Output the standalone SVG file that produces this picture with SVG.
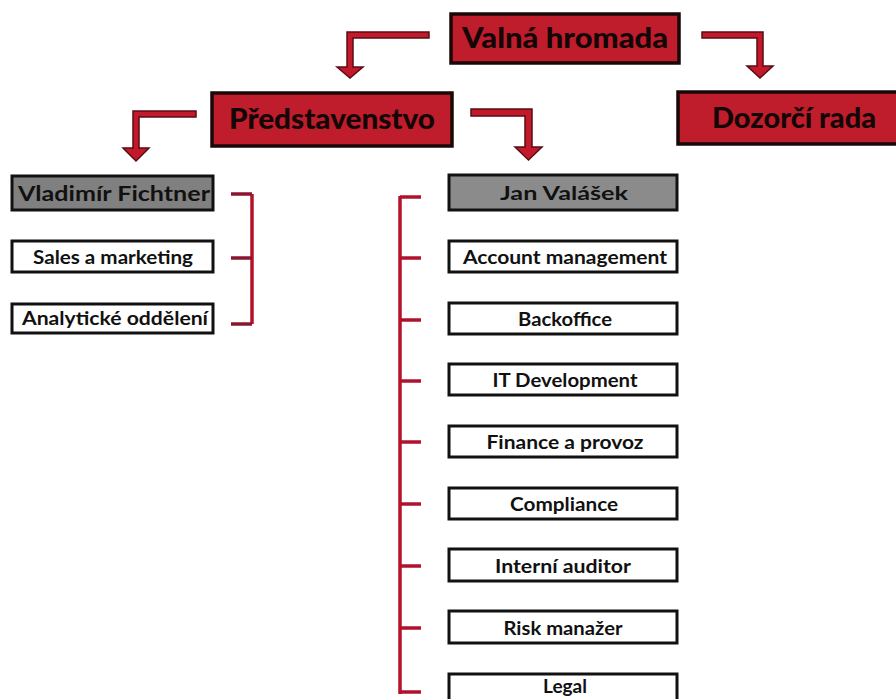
<svg xmlns="http://www.w3.org/2000/svg" width="896" height="699" viewBox="0 0 896 699">
<style>
.red{fill:#bf1d2b;stroke:#1a0808;stroke-width:3.5}
.gray{fill:#8b8b8b;stroke:#111;stroke-width:3}
.white{fill:#fff;stroke:#111;stroke-width:3}
.big{font-family:Lato,"Open Sans","DejaVu Sans",sans-serif;font-weight:900;font-size:29px;fill:#140606;text-anchor:middle}
.t{font-family:Lato,"Open Sans","DejaVu Sans",sans-serif;font-weight:bold;font-size:19px;fill:#111;text-anchor:middle}
.arrow{fill:#c21a2a;stroke:#5a0c14;stroke-width:1.5;stroke-linejoin:miter}
.bar{stroke:#b5122a;stroke-width:3.5;fill:none}
.tick{stroke:#8a1530;stroke-width:3.5}
.rtick{stroke:#b0122c;stroke-width:3.5}
</style>
<rect width="896" height="699" fill="#fff"/>
<g id="connectors">
<polygon class="arrow" points="429,32 347,32 347,67 337,67 350,78 363,67 353,67 353,38 429,38"/>
<polygon class="arrow" points="702,32 763,32 763,66 773,66 760,78 747,66 757,66 757,38 702,38"/>
<polygon class="arrow" points="196,111 133,111 133,148 123,148 136,161 149,148 139,148 139,117 196,117"/>
<polygon class="arrow" points="471,109 532,109 532,147 542,147 528.5,160 515,147 525,147 525,116 471,116"/>
<line class="bar" x1="252" y1="194" x2="252" y2="324"/>
<line class="tick" x1="231" y1="194" x2="252" y2="194"/>
<line class="tick" x1="231" y1="258" x2="252" y2="258"/>
<line class="tick" x1="231" y1="324" x2="252" y2="324"/>
<line class="bar" x1="400" y1="196" x2="400" y2="694"/>
<line class="rtick" x1="400" y1="197" x2="421" y2="197"/>
<line class="rtick" x1="400" y1="258" x2="421" y2="258"/>
<line class="rtick" x1="400" y1="320" x2="421" y2="320"/>
<line class="rtick" x1="400" y1="381" x2="421" y2="381"/>
<line class="rtick" x1="400" y1="442" x2="421" y2="442"/>
<line class="rtick" x1="400" y1="504" x2="421" y2="504"/>
<line class="rtick" x1="400" y1="566" x2="421" y2="566"/>
<line class="rtick" x1="400" y1="628" x2="421" y2="628"/>
<line class="rtick" x1="400" y1="692" x2="421" y2="692"/>
</g>
<g id="valna-hromada">
<rect class="red" x="451" y="14" width="228" height="49"/>
<text class="big" x="565" y="48" textLength="206" lengthAdjust="spacingAndGlyphs">Valná hromada</text>
</g>
<g id="predstavenstvo">
<rect class="red" x="212" y="93" width="240" height="53"/>
<text class="big" x="332" y="129" textLength="206" lengthAdjust="spacingAndGlyphs">Představenstvo</text>
</g>
<g id="dozorci-rada">
<rect class="red" x="678" y="92" width="230" height="52"/>
<text class="big" x="794" y="128" textLength="164" lengthAdjust="spacingAndGlyphs">Dozorčí rada</text>
</g>
<g id="vladimir-fichtner">
<rect class="gray" x="12" y="176" width="201" height="34" style="fill:#808080"/>
<text class="t" x="114" y="201" style="font-size:20px" textLength="192" lengthAdjust="spacingAndGlyphs">Vladimír Fichtner</text>
</g>
<g id="sales-a-marketing">
<rect class="white" x="12" y="241" width="201" height="31"/>
<text class="t" x="113" y="264" textLength="160" lengthAdjust="spacingAndGlyphs">Sales a marketing</text>
</g>
<g id="analyticke-oddeleni">
<rect class="white" x="12" y="304" width="201" height="29"/>
<text class="t" x="115" y="325" textLength="186" lengthAdjust="spacingAndGlyphs">Analytické oddělení</text>
</g>
<g id="jan-valasek">
<rect class="gray" x="449" y="175" width="228" height="35"/>
<text class="t" x="564" y="200" textLength="128" lengthAdjust="spacingAndGlyphs">Jan Valášek</text>
</g>
<g id="account-management">
<rect class="white" x="449" y="241" width="228" height="31"/>
<text class="t" x="565" y="264" textLength="204" lengthAdjust="spacingAndGlyphs">Account management</text>
</g>
<g id="backoffice">
<rect class="white" x="449" y="303" width="228" height="31"/>
<text class="t" x="565" y="326" textLength="94" lengthAdjust="spacingAndGlyphs">Backoffice</text>
</g>
<g id="it-development">
<rect class="white" x="449" y="364" width="228" height="31"/>
<text class="t" x="565" y="387" textLength="145" lengthAdjust="spacingAndGlyphs">IT Development</text>
</g>
<g id="finance-a-provoz">
<rect class="white" x="449" y="426" width="228" height="31"/>
<text class="t" x="565" y="449" textLength="157" lengthAdjust="spacingAndGlyphs">Finance a provoz</text>
</g>
<g id="compliance">
<rect class="white" x="449" y="488" width="228" height="31"/>
<text class="t" x="564" y="511" textLength="108" lengthAdjust="spacingAndGlyphs">Compliance</text>
</g>
<g id="interni-auditor">
<rect class="white" x="449" y="549" width="228" height="32"/>
<text class="t" x="563" y="573" textLength="136" lengthAdjust="spacingAndGlyphs">Interní auditor</text>
</g>
<g id="risk-manazer">
<rect class="white" x="449" y="611" width="228" height="32"/>
<text class="t" x="563" y="635" textLength="119" lengthAdjust="spacingAndGlyphs">Risk manažer</text>
</g>
<g id="legal">
<rect class="white" x="449" y="674" width="228" height="32"/>
<text class="t" x="565" y="693" textLength="44" lengthAdjust="spacingAndGlyphs">Legal</text>
</g>
</svg>
